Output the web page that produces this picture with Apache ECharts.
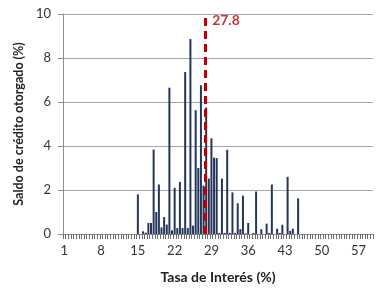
<!DOCTYPE html>
<html>
<head>
<meta charset="utf-8">
<script src="https://cdn.jsdelivr.net/npm/echarts@6/dist/echarts.min.js"></script>
<style>
  html, body { margin: 0; padding: 0; background: #fff; }
  #chart { width: 378px; height: 289px; }
</style>
</head>
<body>
<div id="chart"></div>
<script>
// tasa de interés (%) con saldo distinto de cero
let rates = [15, 16, 16.5, 17, 17.5, 18, 18.5, 19, 19.5, 20, 20.5, 21, 21.5, 22, 22.5, 23, 23.5,
  24, 24.5, 25, 25.5, 26, 26.5, 27, 27.5, 28, 28.5, 29, 29.5, 30, 30.5, 31, 31.5, 32, 32.5,
  33, 33.5, 34, 34.5, 35, 35.5, 36, 37, 37.5, 38.5, 39.5, 40, 40.5, 41.5, 42, 42.5, 43.5,
  44, 44.5, 45.5];
// saldo de crédito otorgado (%)
let shares = [1.8, 0.12, 0.06, 0.5, 0.5, 3.84, 1.0, 2.25, 0.3, 0.77, 0.43, 6.65, 0.17, 2.1, 0.27, 2.37, 0.27,
  7.36, 0.27, 8.86, 0.38, 5.63, 3.0, 6.76, 2.2, 5.75, 2.52, 4.35, 3.47, 3.45, 0.05, 2.52, 0.05, 3.83, 0.05,
  1.89, 0.05, 1.4, 0.22, 1.74, 0.03, 0.5, 0.05, 1.93, 0.22, 0.47, 0.05, 2.25, 0.24, 0.05, 0.42, 2.6,
  0.14, 0.24, 1.62];
// eje x: 1 a 59.5 en pasos de 0.5
let firstRate = 1, lastRate = 59.5, step = 0.5;
let avgRate = 27.8;

let categories = [];
for (let r = firstRate; r <= lastRate + 1e-9; r += step) categories.push(String(r));
let barData = rates.map((r, i) => [Math.round((r - firstRate) / step), shares[i]]);

let font = 'Lato';
let chart = echarts.init(document.getElementById('chart'));
chart.setOption({
  animation: false,
  textStyle: { fontFamily: font },
  grid: { left: 63, right: 5, top: 14, bottom: 53 },
  xAxis: [{
    type: 'category',
    data: categories,
    name: 'Tasa de Interés (%)',
    nameLocation: 'middle',
    nameGap: 36,
    nameTextStyle: { fontSize: 14, fontWeight: 'bold', color: '#222', fontFamily: font },
    axisLine: { show: true, lineStyle: { color: '#8c8c8c', width: 1 } },
    axisTick: { show: false },
    axisLabel: { interval: 13, margin: 10, fontSize: 13, color: '#333', fontFamily: font }
  }, {
    // eje auxiliar: marcas en cada límite de categoría y posición de la media
    type: 'value',
    position: 'bottom',
    min: firstRate - step / 2,
    max: lastRate + step / 2,
    interval: step,
    axisLine: { show: false },
    axisLabel: { show: false },
    splitLine: { show: false },
    axisTick: { show: true, length: 5, lineStyle: { color: '#6e6e6e', width: 1 } }
  }],
  yAxis: {
    type: 'value',
    min: 0, max: 10, interval: 2,
    name: 'Saldo de crédito otorgado (%)',
    nameLocation: 'middle',
    nameGap: 38,
    nameTextStyle: { fontSize: 12.5, fontWeight: 'bold', color: '#222', fontFamily: font },
    axisLine: { show: true, lineStyle: { color: '#8c8c8c' } },
    axisTick: { show: true, length: 5, lineStyle: { color: '#8c8c8c' } },
    axisLabel: { fontSize: 13, color: '#333', margin: 12, fontFamily: font },
    splitLine: { lineStyle: { color: '#a6a6a6', width: 1 } }
  },
  series: [{
    type: 'bar',
    xAxisIndex: 0,
    barWidth: 2,
    itemStyle: { color: '#26355a' },
    data: barData
  }, {
    type: 'scatter',
    xAxisIndex: 1,
    symbolSize: 0,
    data: [[avgRate, 9.72]],
    label: {
      show: true, position: 'right', distance: 7,
      formatter: String(avgRate),
      fontSize: 14, fontWeight: 'bold', color: '#c00000', fontFamily: font
    },
    markLine: {
      symbol: 'none',
      silent: true,
      label: { show: false },
      lineStyle: { color: '#c00000', width: 3, type: [8, 5] },
      data: [{ xAxis: avgRate }]
    }
  }]
});
</script>
</body>
</html>
